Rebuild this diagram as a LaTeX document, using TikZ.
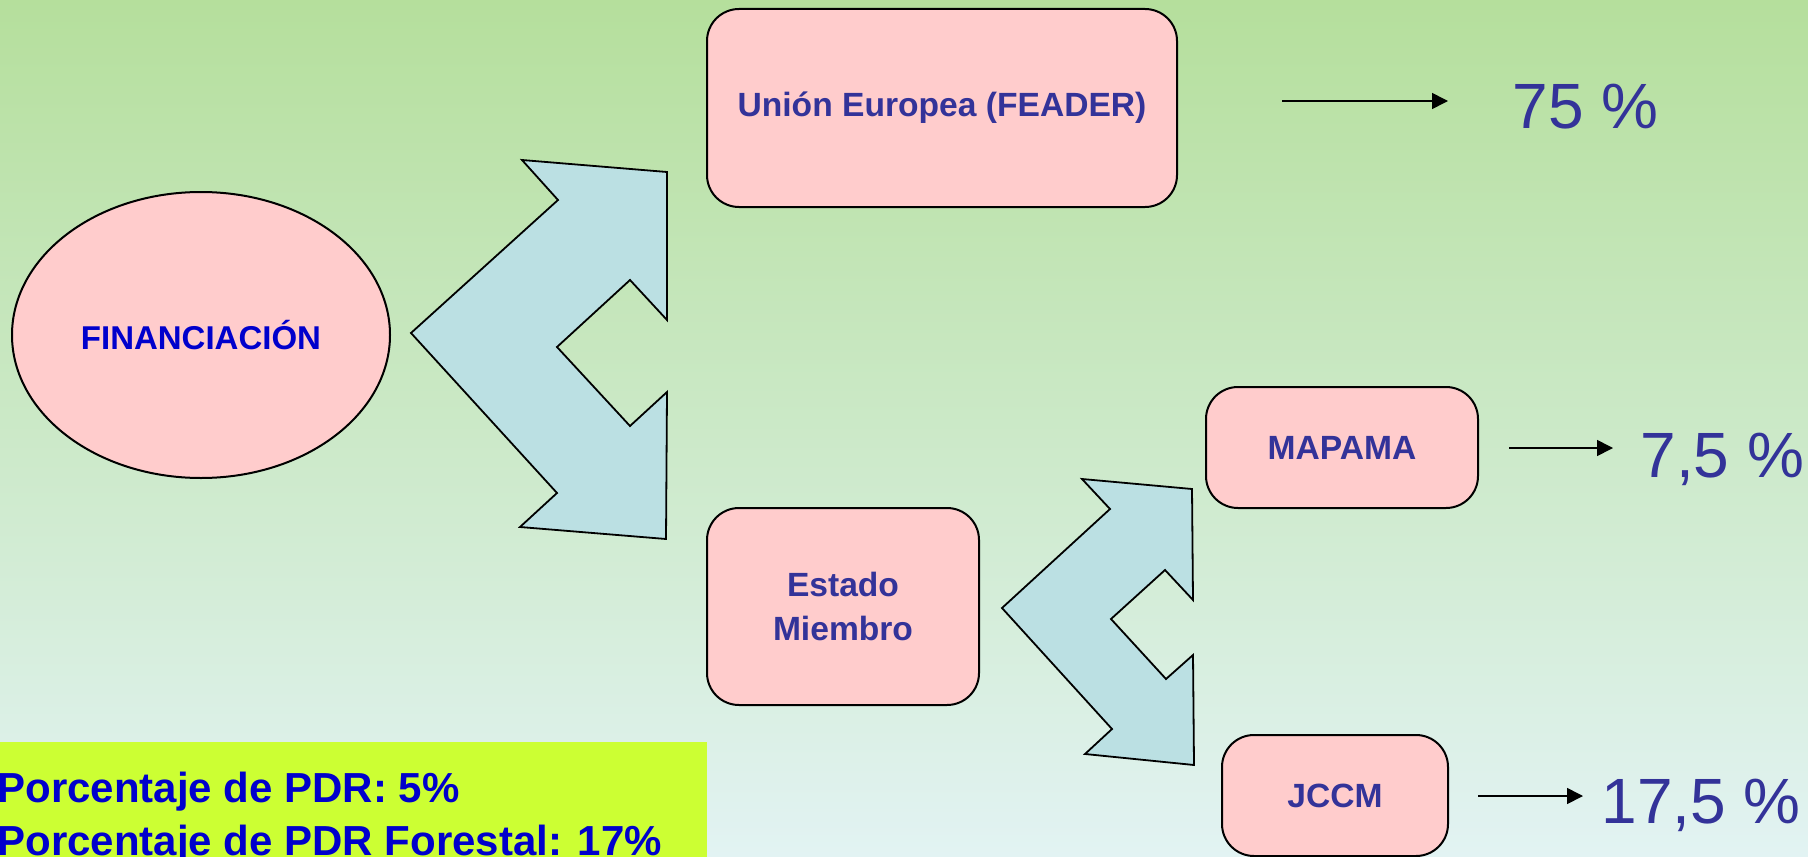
\documentclass[tikz,border=0pt]{standalone}
\usepackage{fontspec}
\setmainfont{Liberation Sans}
\usetikzlibrary{arrows.meta,shapes.geometric}
\definecolor{bgtop}{RGB}{181,223,156}
\definecolor{bgmid}{RGB}{211,235,212}
\definecolor{bgbot}{RGB}{226,243,243}
\definecolor{boxfill}{RGB}{255,204,204}
\definecolor{arrowfill}{RGB}{187,224,227}
\definecolor{slateblue}{RGB}{51,51,153}
\definecolor{deepblue}{RGB}{0,0,204}
\definecolor{limefill}{RGB}{204,255,51}
\begin{document}
\begin{tikzpicture}[x=0.5pt,y=-0.5pt,
  pinkbox/.style={draw=black,line width=1pt,fill=boxfill,rounded corners=16pt,inner sep=0pt,
    text=slateblue,font=\fontsize{16.8}{22}\selectfont\bfseries,align=center},
  blockarrow/.style={draw=black,line width=0.9pt,fill=arrowfill,line join=miter},
  conn/.style={draw=black,line width=0.8pt,-{Triangle[length=8pt,width=8pt]}},
  pct/.style={text=slateblue,font=\fontsize{32}{38}\selectfont,inner sep=0pt,anchor=base west},
  pdrtext/.style={text=deepblue,font=\fontsize{21}{26.5}\selectfont\bfseries,inner sep=0pt,anchor=base west}]
\useasboundingbox (0,0) rectangle (1808,856);
\shade[top color=bgtop,middle color=bgmid,bottom color=bgbot] (0,0) rectangle (1808,856);

% ellipse
\node[ellipse,draw=black,line width=1pt,fill=boxfill,minimum width=189pt,minimum height=143pt,inner sep=0pt,
  text=deepblue,font=\fontsize{16.5}{20}\selectfont\bfseries] (fin) at (201,335) {FINANCIACIÓN};

% big block arrow
\draw[blockarrow] (411,333) -- (558,200) -- (522,160) -- (667,172) -- (667,320) -- (630,280)
  -- (557,347) -- (630,426) -- (667,392) -- (666,539) -- (520,527) -- (557,493) -- cycle;

% small block arrow
\draw[blockarrow] (1002,608) -- (1110,509) -- (1082,479) -- (1192,489) -- (1193,600) -- (1165,570)
  -- (1111,619) -- (1166,679) -- (1193,655) -- (1194,765) -- (1085,754) -- (1112,729) -- cycle;

% boxes
\node[pinkbox,minimum width=235pt,minimum height=99pt] (ue) at (942,108) {Unión Europea (FEADER)};
\node[pinkbox,minimum width=136pt,minimum height=98.5pt] (em) at (843,606.5) {Estado\\Miembro};
\node[pinkbox,minimum width=136pt,minimum height=60.5pt] (mapama) at (1342,447.5) {MAPAMA};
\node[pinkbox,minimum width=113pt,minimum height=60.5pt] (jccm) at (1335,795.5) {JCCM};

% percentages
\node[pct] (p75) at (1512,128) {75 \%};
\node[pct] (p75b) at (1640,477) {7,5 \%};
\node[pct] (p175) at (1601,823) {17,5 \%};

\coordinate (s1) at (1282,101); \coordinate (e1) at (1448,101);
\coordinate (s2) at (1509,448); \coordinate (e2) at (1613,448);
\coordinate (s3) at (1478,796); \coordinate (e3) at (1583,796);
\draw[conn] (s1) -- (e1);
\draw[conn] (s2) -- (e2);
\draw[conn] (s3) -- (e3);

% bottom-left box
\node[fill=limefill,inner sep=0pt,minimum width=357pt,minimum height=70pt,anchor=north west] (pdrbox) at (-7,742) {};
\node[pdrtext] (pdr1) at (-3,802) {Porcentaje de PDR: 5\%};
\node[pdrtext] (pdr2) at (-3,855) {Porcentaje de PDR Forestal: 17\%};
\end{tikzpicture}
\end{document}
